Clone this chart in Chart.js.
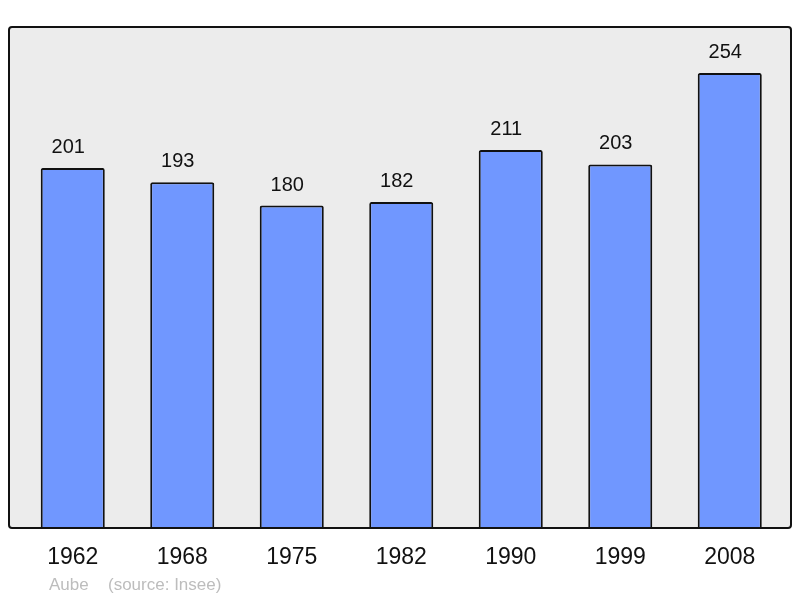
<!DOCTYPE html>
<html>
<head>
<meta charset="utf-8">
<script src="https://cdn.jsdelivr.net/npm/chart.js@4"></script>
<style>
  html, body { margin: 0; padding: 0; background: #fff; }
  #wrap { width: 800px; height: 598px; }
</style>
</head>
<body>
<div id="wrap"><canvas id="chart" width="800" height="598"></canvas></div>
<script>
// population data
const annees = ['1962', '1968', '1975', '1982', '1990', '1999', '2008'];
const habitants = [201, 193, 180, 182, 211, 203, 254];
const piedGauche = 'Aube';
const piedDroite = '(source: Insee)';

// fond gris + cadre autour de la zone
const cadre = {
    id: 'cadre',
    beforeDatasetsDraw(chart) {
        const ctx = chart.ctx;
        ctx.save();
        ctx.fillStyle = '#ececec';
        ctx.beginPath();
        ctx.roundRect(9, 27, 782, 501, 3);
        ctx.fill();
        ctx.restore();
    },
    afterDatasetsDraw(chart) {
        const ctx = chart.ctx;
        const xs = chart.scales.x;
        const meta = chart.getDatasetMeta(0);
        ctx.save();
        ctx.strokeStyle = '#111';
        ctx.lineWidth = 2;
        ctx.beginPath();
        ctx.roundRect(9, 27, 782, 501, 3);
        ctx.stroke();

        // valeurs au-dessus des barres (un peu décalées à gauche)
        ctx.fillStyle = '#111';
        ctx.font = '20px "Liberation Sans", Arial, sans-serif';
        ctx.textAlign = 'center';
        ctx.textBaseline = 'middle';
        meta.data.forEach((bar, i) => {
            ctx.fillText(String(habitants[i]), bar.x - 4.5, bar.y - 20.5);
        });

        // années sous l'axe
        ctx.font = '23px "Liberation Sans", Arial, sans-serif';
        annees.forEach((a, i) => {
            ctx.fillText(a, xs.getPixelForValue(i), 557.5);
        });

        // source
        ctx.fillStyle = '#bdbdbd';
        ctx.font = '17px "Liberation Sans", Arial, sans-serif';
        ctx.textAlign = 'left';
        ctx.fillText(piedGauche, 49, 585);
        ctx.fillText(piedDroite, 108, 585);
        ctx.restore();
    }
};

new Chart(document.getElementById('chart'), {
    type: 'bar',
    data: {
        labels: annees,
        datasets: [{
            data: habitants,
            backgroundColor: '#7097ff',
            borderColor: '#111',
            borderWidth: 2,
            borderSkipped: 'bottom',
            borderRadius: 2,
            categoryPercentage: 1,
            barPercentage: 0.585
        }]
    },
    options: {
        responsive: false,
        animation: false,
        layout: { padding: { left: 18, right: 15.5, top: 27, bottom: 70 } },
        plugins: { legend: { display: false }, tooltip: { enabled: false } },
        scales: {
            x: { display: false },
            y: { display: false, min: 0, max: 279.7 }
        }
    },
    plugins: [cadre]
});
</script>
</body>
</html>
